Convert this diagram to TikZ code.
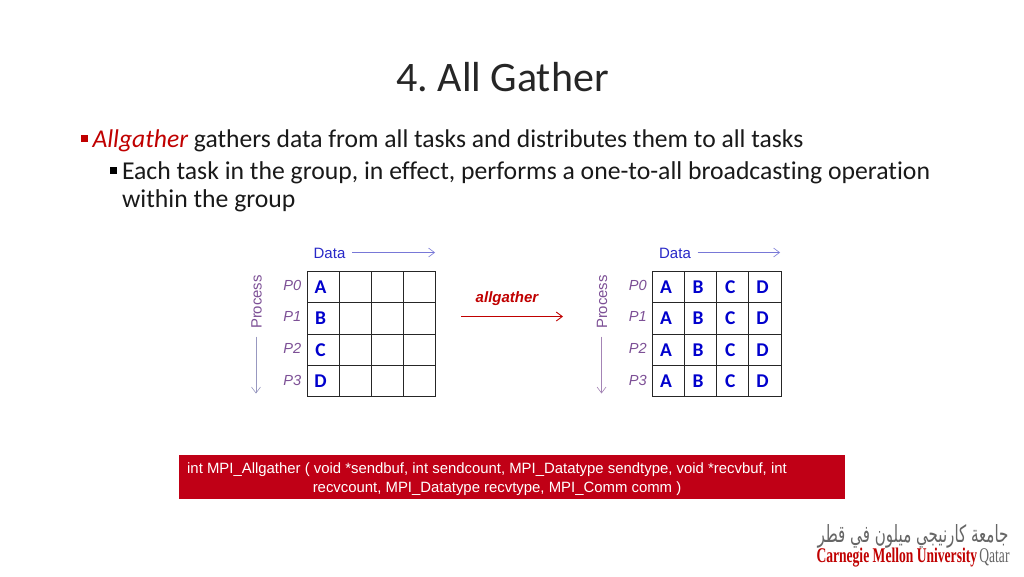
\documentclass[tikz,border=0pt]{standalone}
\usepackage{fontspec}
\setmainfont[Ligatures=NoCommon]{Carlito}
\newfontfamily\diag{Liberation Sans}
\newfontfamily\logoserif{Liberation Serif}
\newfontfamily\arabicfont[Script=Arabic]{DejaVu Sans}
\TeXXeTstate=1
\frenchspacing
\usetikzlibrary{arrows.meta}
\definecolor{cmured}{RGB}{192,0,0}
\definecolor{datablue}{RGB}{40,40,200}
\definecolor{arrowblue}{RGB}{120,120,215}
\definecolor{procpurple}{RGB}{125,80,150}
\definecolor{letterblue}{RGB}{0,0,205}
\definecolor{boxred}{RGB}{192,0,22}
\tikzset{
  x=1pt,y=-1pt,
  every node/.style={inner sep=0pt,outer sep=0pt},
  body/.style={anchor=base west,font=\fontsize{#1}{29}\selectfont,text=black!90},
  body/.default=25.7,
  bullet/.style={anchor=center,minimum size=7.5pt,fill=#1},
  cell/.style={draw=black!85,line width=1pt,minimum width=32.2pt,minimum height=31.25pt,anchor=center,text=letterblue,font=\fontsize{19.5}{20}\selectfont\bfseries},
  plabel/.style={anchor=center,text=procpurple,font=\diag\itshape\fontsize{14.6}{16}\selectfont},
  datalabel/.style={anchor=center,text=datablue,font=\diag\fontsize{15}{16}\selectfont},
  proclabel/.style={anchor=center,rotate=90,text=procpurple,font=\diag\fontsize{14.9}{16}\selectfont},
  dataarrow/.style={draw=arrowblue,line width=0.7pt,-{Straight Barb[length=6pt,width=9pt,line width=0.6pt]}},
  procarrow/.style={draw=procpurple!70,line width=0.7pt,-{Straight Barb[length=6pt,width=9pt,line width=0.6pt]}},
  gatherarrow/.style={draw=cmured,line width=1pt,-{Straight Barb[length=6pt,width=9pt,line width=0.9pt]}},
  sigtext/.style={anchor=base,text=white,font=\diag\fontsize{14.9}{16}\selectfont}
}
\newcommand{\cellltr}[1]{\hspace*{-5pt}#1}
\begin{document}
\begin{tikzpicture}
\useasboundingbox (0,0) rectangle (1024,576);
\fill[white] (0,0) rectangle (1024,576);
% title
\node[anchor=center,text=black!85,font=\fontsize{42}{44}\selectfont] (title) at (502.5,77.5) {4. All Gather};
% bullets
\node[bullet=cmured] (b1) at (84.5,138.5) {};
\node[body=25.6] (t1) at (92.5,147) {\textcolor{cmured}{\itshape Allgather} gathers data from all tasks and distributes them to all tasks};
\node[bullet=black] (b2) at (113.5,170.5) {};
\node[body] (t2) at (122,179.5) {Each task in the group, in effect, performs a one-to-all broadcasting operation};
\node[body] (t3) at (122,207.5) {within the group};
% left grid
\foreach \r/\y/\l in {0/287.3/A,1/318.6/B,2/349.9/C,3/381.1/D}{
  \node[cell] (L\r0) at (323.1,\y) {\cellltr{\l}};
  \node[cell] (L\r1) at (355.3,\y) {};
  \node[cell] (L\r2) at (387.5,\y) {};
  \node[cell] (L\r3) at (419.7,\y) {};
}
% right grid
\foreach \r/\y in {0/287.3,1/318.6,2/349.9,3/381.1}{
  \node[cell] (R\r0) at (668.4,\y) {\cellltr{A}};
  \node[cell] (R\r1) at (700.6,\y) {\cellltr{B}};
  \node[cell] (R\r2) at (732.8,\y) {\cellltr{C}};
  \node[cell] (R\r3) at (765,\y) {\cellltr{D}};
}
% process labels
\foreach \n/\t/\y in {0/P0/285,1/P1/316.5,2/P2/348.3,3/P3/380.3}{
  \node[plabel] (LP\n) at (292.3,\y) {\t};
  \node[plabel] (RP\n) at (637.8,\y) {\t};
}
% data labels and arrows
\node[datalabel] (LData) at (329.5,253.5) {Data};
\coordinate (LDataS) at (352,252.5);
\coordinate (LDataE) at (435,252.5);
\draw[dataarrow] (LDataS) -- (LDataE);
\node[datalabel] (RData) at (675,253.5) {Data};
\coordinate (RDataS) at (697.5,252.5);
\coordinate (RDataE) at (780,252.5);
\draw[dataarrow] (RDataS) -- (RDataE);
% process side labels and arrows
\node[proclabel] (LProc) at (256.5,302) {Process};
\coordinate (LProcStart) at (256,336.5);
\coordinate (LProcEnd) at (256,393.5);
\draw[procarrow,draw=black!30!arrowblue!60] (LProcStart) -- (LProcEnd);
\node[proclabel] (RProc) at (602,302) {Process};
\coordinate (RProcStart) at (601.5,336.5);
\coordinate (RProcEnd) at (601.5,393.5);
\draw[procarrow] (RProcStart) -- (RProcEnd);
% allgather
\node[anchor=center,text=cmured,font=\diag\bfseries\itshape\fontsize{15}{16}\selectfont] (ag) at (507,298.5) {allgather};
\coordinate (agS) at (461,316.5);
\coordinate (agE) at (563,316.5);
\draw[gatherarrow] (agS) -- (agE);
% red box
\node[anchor=north west,fill=boxred,minimum width=666pt,minimum height=44.5pt] (box) at (179,454.5) {};
\node[sigtext] (sig1) at (487,473) {int MPI\_Allgather ( void *sendbuf, int sendcount, MPI\_Datatype sendtype, void *recvbuf, int};
\node[sigtext] (sig2) at (497,492) {recvcount, MPI\_Datatype recvtype, MPI\_Comm comm )};
% logo
\node[anchor=center,text=black!60] (lar) at (913,536.5) {\resizebox{191pt}{18pt}{\arabicfont\beginR جامعة كارنيجي ميلون في قطر\endR}};
\node[anchor=west] (len) at (816.5,558) {\resizebox{193pt}{14.5pt}{\logoserif\textbf{\textcolor{cmured}{Carnegie Mellon University}}\,\textcolor{black!60}{Qatar}}};
\end{tikzpicture}
\end{document}
